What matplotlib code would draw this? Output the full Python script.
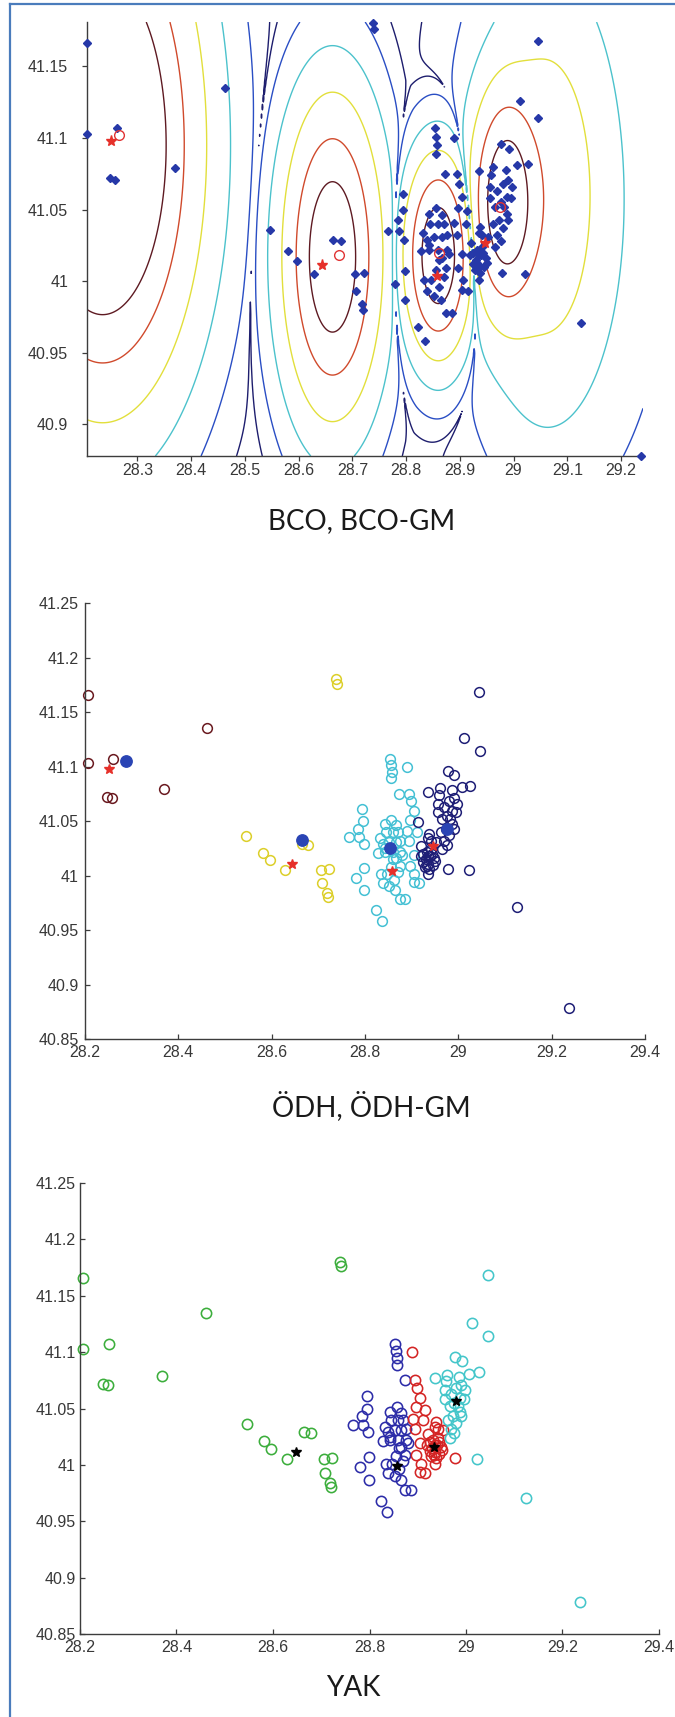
import numpy as np
import matplotlib
matplotlib.use("Agg")
import matplotlib.pyplot as plt
from matplotlib.lines import Line2D

# ---------------- epicentre coordinates ----------------
# clusters of the ODH partition: 0 maroon, 1 yellow, 2 cyan, 3 navy
# clusters of the YAK partition: 0 green, 1 blue, 2 red, 3 cyan
lon = [
    # left group
    28.206, 28.206, 28.261, 28.248, 28.258, 28.369, 28.462,
    28.738, 28.740, 28.546, 28.581, 28.596, 28.628, 28.664, 28.678,
    28.705, 28.722, 28.707, 28.718, 28.720,
    # central-west group
    28.853, 28.855, 28.857, 28.856, 28.873,
    28.794, 28.795, 28.784, 28.766, 28.787, 28.797,
    28.842, 28.856, 28.866, 28.845, 28.859, 28.870,
    28.832, 28.839, 28.852, 28.866, 28.876,
    28.842, 28.859, 28.828, 28.866, 28.876,
    28.780, 28.798, 28.798, 28.823, 28.836,
    28.834, 28.847, 28.838, 28.852, 28.865,
    28.874, 28.886, 28.870, 28.874, 28.861,
    28.879, 28.843, 28.855, 28.862,
    # central-east group
    28.889, 28.895, 28.898, 28.904, 28.897, 28.890, 28.911, 28.894,
    28.904, 28.897, 28.906, 28.904, 28.916,
    28.914, 28.938, 28.942, 28.952, 28.921, 28.935, 28.935, 28.978, 28.919,
    28.925, 28.930, 28.935, 28.940, 28.945, 28.938, 28.928, 28.948,
    28.932, 28.942, 28.950, 28.936, 28.925, 28.944, 28.933,
    # eastern group
    29.045, 29.012, 29.046, 28.977, 28.991,
    28.936, 28.961, 28.986, 29.007, 29.026,
    29.022, 29.125, 29.237,
    28.956, 28.969, 28.980, 28.990, 28.997, 28.987, 28.956, 28.966,
    28.976, 28.987, 28.990, 28.973, 28.980, 28.969, 28.976, 28.966,
    28.958, 28.962, 28.983, 28.995,
]
lat = [
    41.166, 41.103, 41.107, 41.072, 41.071, 41.079, 41.135,
    41.180, 41.176, 41.036, 41.021, 41.014, 41.005, 41.029, 41.028,
    41.005, 41.006, 40.993, 40.984, 40.980,
    41.107, 41.101, 41.095, 41.089, 41.075,
    41.061, 41.050, 41.043, 41.035, 41.035, 41.029,
    41.047, 41.051, 41.046, 41.040, 41.040, 41.040,
    41.034, 41.029, 41.031, 41.031, 41.032,
    41.022, 41.022, 41.021, 41.016, 41.022,
    40.998, 41.007, 40.987, 40.968, 40.958,
    41.001, 41.001, 40.993, 40.990, 40.987,
    40.978, 40.978, 41.003, 41.009, 41.015,
    41.019, 41.025, 41.008, 40.996,
    41.100, 41.075, 41.068, 41.059, 41.051, 41.041, 41.040, 41.032,
    41.019, 41.009, 41.001, 40.994, 40.993,
    41.049, 41.038, 41.032, 41.031, 41.027, 41.034, 41.001, 41.006, 41.018,
    41.020, 41.015, 41.011, 41.018, 41.010, 41.006, 41.008, 41.016,
    41.022, 41.024, 41.013, 41.018, 41.012, 41.020, 41.009,
    41.168, 41.126, 41.114, 41.096, 41.092,
    41.077, 41.080, 41.078, 41.081, 41.082,
    41.005, 40.971, 40.878,
    41.066, 41.063, 41.068, 41.071, 41.066, 41.059, 41.058, 41.052,
    41.055, 41.047, 41.043, 41.043, 41.037, 41.032, 41.028, 41.024,
    41.074, 41.040, 41.052, 41.058,
]
odh_label = ([0] * 7 + [1] * 13 + [2] * 46 + [2] * 13 + [3] * 24 + [3] * 33)
yak_label = ([0] * 20 + [1] * 46 + [2] * 37 + [3] * 33)

# cluster centres
gm_star_lon = [28.251, 28.644, 28.857, 28.946]
gm_star_lat = [41.098, 41.011, 41.004, 41.027]
bco_lon = [28.266, 28.676, 28.861, 28.974]
bco_lat = [41.102, 41.018, 41.020, 41.052]
odh_mean_lon = [28.288, 28.666, 28.853, 28.976]
odh_mean_lat = [41.105, 41.033, 41.025, 41.043]
yak_centre_lon = [28.647, 28.857, 28.933, 28.979]
yak_centre_lat = [41.011, 40.999, 41.016, 41.057]

# Gaussian mixture used for the density contours (components grouped per cluster)
gm_mu_lon = [28.235, 28.663, 28.860, 28.986, 29.060, 29.100]
gm_mu_lat = [41.095, 41.017, 41.018, 41.055, 41.060, 41.050]
gm_sd_lon = [0.075, 0.041, 0.029, 0.031, 0.058, 0.100]
gm_sd_lat = [0.075, 0.050, 0.032, 0.037, 0.068, 0.100]
gm_weight = [2.0, 1.0, 1.0, 1.0, 0.17, 0.01]
gm_group = [0, 1, 2, 3, 3, 3]
ring_radius = [4.25, 3.6, 2.95, 2.3, 1.65, 1.05]   # Mahalanobis radii of the rings
overlap_alpha = 0.9

# tick positions / labels
p1_xticks = [28.3, 28.4, 28.5, 28.6, 28.7, 28.8, 28.9, 29.0, 29.1, 29.2]
p1_xlabels = ["28.3", "28.4", "28.5", "28.6", "28.7", "28.8", "28.9", "29", "29.1", "29.2"]
p1_yticks = [40.9, 40.95, 41.0, 41.05, 41.1, 41.15]
p1_ylabels = ["40.9", "40.95", "41", "41.05", "41.1", "41.15"]
p23_xticks = [28.2, 28.4, 28.6, 28.8, 29.0, 29.2, 29.4]
p23_xlabels = ["28.2", "28.4", "28.6", "28.8", "29", "29.2", "29.4"]
p23_yticks = [40.85, 40.9, 40.95, 41.0, 41.05, 41.1, 41.15, 41.2, 41.25]
p23_ylabels = ["40.85", "40.9", "40.95", "41", "41.05", "41.1", "41.15", "41.2", "41.25"]

captions = ["BCO, BCO-GM", "ÖDH, ÖDH-GM", "YAK"]

# ---------------- styling ----------------
W, H = 675, 1717
TICK_FONT = dict(family=["Liberation Sans", "DejaVu Sans"], size=11.5, color="#383838")
CAP_FONT = dict(family=["Lato", "DejaVu Sans"], size=20, color="#1a1a1a")
ring_colors = ["#1e1e6e", "#2a4ec4", "#4cc2cc", "#e2df3c", "#d04a2c", "#5e1a22"]
odh_colors = ["#6a1a20", "#dccf2a", "#44c0d4", "#1e1e76"]
yak_colors = ["#3cae3c", "#2c2ca8", "#d42424", "#44c6ca"]
SPINE = "#3c3c3c"

lon = np.array(lon)
lat = np.array(lat)
odh_label = np.array(odh_label)
yak_label = np.array(yak_label)


def px_axes(fig, left, right, top, bottom):
    return fig.add_axes([left / W, 1 - bottom / H, (right - left) / W, (bottom - top) / H])


def style_axes(ax, xt, xl, yt, yl, direction, ypad, xpad):
    for s in ("top", "right"):
        ax.spines[s].set_visible(False)
    for s in ("left", "bottom"):
        ax.spines[s].set_color(SPINE)
        ax.spines[s].set_linewidth(1.0)
    ax.set_xticks(xt, xl)
    ax.set_yticks(yt, yl)
    ax.tick_params(direction=direction, length=3.5, width=0.9, color=SPINE)
    ax.tick_params(axis="y", pad=ypad)
    ax.tick_params(axis="x", pad=xpad)
    for t in ax.get_xticklabels() + ax.get_yticklabels():
        t.set_fontfamily(TICK_FONT["family"])
        t.set_fontsize(TICK_FONT["size"])
        t.set_color(TICK_FONT["color"])


def mixture_field(gx, gy):
    n_groups = max(gm_group) + 1
    dens = np.zeros((n_groups,) + gx.shape)
    for mx, my, sx, sy, w, g in zip(gm_mu_lon, gm_mu_lat, gm_sd_lon, gm_sd_lat,
                                    gm_weight, gm_group):
        dens[g] += w * np.exp(-0.5 * (((gx - mx) / sx) ** 2 + ((gy - my) / sy) ** 2))
    dens.sort(axis=0)
    z = dens[-1] - overlap_alpha * dens[-2]
    return np.log(np.maximum(z, 1e-300))


fig = plt.figure(figsize=(W / 100, H / 100), dpi=100)

# ---------------- panel 1: mixture contours ----------------
ax1 = px_axes(fig, 87, 643, 22, 456)
x1 = np.linspace(28.206, 29.241, 600)
y1 = np.linspace(40.878, 41.181, 450)
GX, GY = np.meshgrid(x1, y1)
F = mixture_field(GX, GY)
levels = np.sort(-0.5 * np.array(ring_radius) ** 2)
ax1.contour(GX, GY, F, levels=levels, colors=ring_colors, linewidths=1.0)
ax1.plot(lon, lat, ls="none", marker="D", ms=3.6, color="#2638a8", clip_on=False, zorder=3)
ax1.plot(bco_lon, bco_lat, ls="none", marker="o", ms=7, mfc="none", mec="#e03434",
         mew=1.0, zorder=4)
ax1.plot(gm_star_lon, gm_star_lat, ls="none", marker="*", ms=8, color="#e6302a", zorder=5)
ax1.set_xlim(28.206, 29.241)
ax1.set_ylim(40.878, 41.181)
style_axes(ax1, p1_xticks, p1_xlabels, p1_yticks, p1_ylabels, "out", 10, 1.5)

# ---------------- panel 2: ODH clusters ----------------
ax2 = px_axes(fig, 85, 645, 603, 1039)
for k in range(4):
    m = odh_label == k
    ax2.plot(lon[m], lat[m], ls="none", marker="o", ms=7.0, mfc="none",
             mec=odh_colors[k], mew=1.1, clip_on=False)
ax2.plot(odh_mean_lon, odh_mean_lat, ls="none", marker="o", ms=8.2, color="#2a44b4", zorder=4)
ax2.plot(gm_star_lon, gm_star_lat, ls="none", marker="*", ms=7.5, color="#e6302a", zorder=5)
ax2.set_xlim(28.2, 29.4)
ax2.set_ylim(40.85, 41.25)
style_axes(ax2, p23_xticks, p23_xlabels, p23_yticks, p23_ylabels, "in", 4.5, 4)

# ---------------- panel 3: YAK clusters ----------------
ax3 = px_axes(fig, 80, 659, 1183, 1634)
for k in range(4):
    m = yak_label == k
    ax3.plot(lon[m], lat[m], ls="none", marker="o", ms=7.4, mfc="none",
             mec=yak_colors[k], mew=1.15, clip_on=False)
ax3.plot(yak_centre_lon, yak_centre_lat, ls="none", marker="*", ms=7, color="black", zorder=5)
ax3.set_xlim(28.2, 29.4)
ax3.set_ylim(40.85, 41.25)
style_axes(ax3, p23_xticks, p23_xlabels, p23_yticks, p23_ylabels, "in", 3, 4.5)

# ---------------- captions ----------------
for text, (cx, cy) in zip(captions, [(362, 521), (371, 1106), (353, 1688)]):
    fig.text(cx / W, 1 - cy / H, text, ha="center", va="center", **CAP_FONT)

# ---------------- page frame ----------------
frame = "#4a7cbc"
fig.add_artist(Line2D([9.5 / W, 9.5 / W], [0, 1 - 4 / H], transform=fig.transFigure,
                      color=frame, lw=1.6))
fig.add_artist(Line2D([9.5 / W, 1], [1 - 4 / H, 1 - 4 / H], transform=fig.transFigure,
                      color=frame, lw=1.6))

fig.savefig("out.png", dpi=100, facecolor="white")
